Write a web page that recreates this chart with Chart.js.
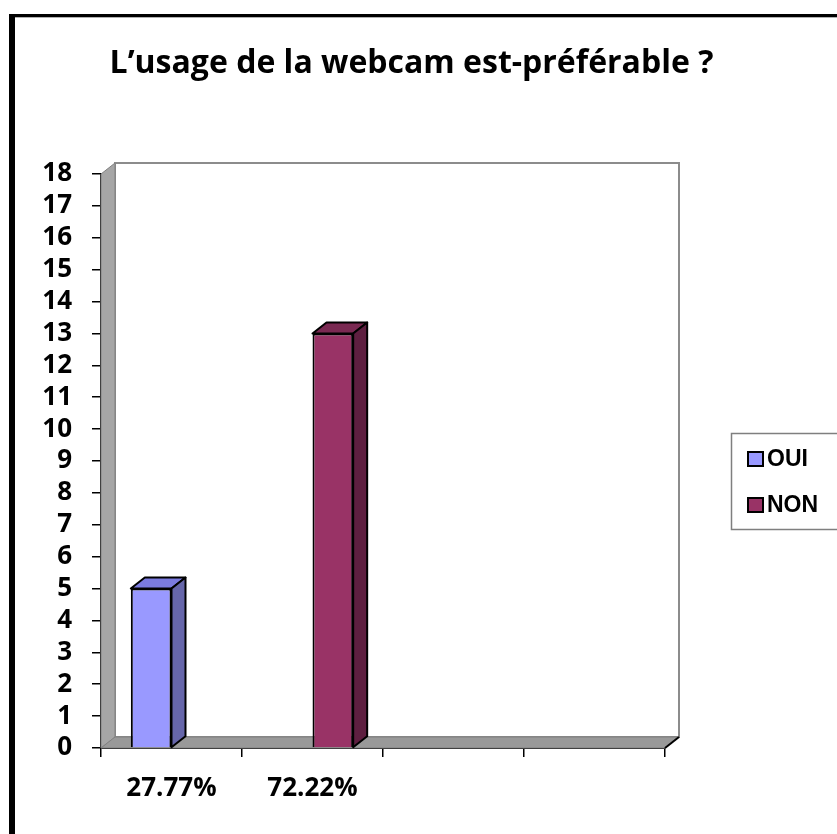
<!DOCTYPE html>
<html>
<head>
<meta charset="utf-8">
<script src="https://cdn.jsdelivr.net/npm/chart.js@4"></script>
<style>
  html, body { margin: 0; padding: 0; background: #fff; }
  canvas { display: block; }
</style>
</head>
<body>
<canvas id="myChart" width="837" height="834"></canvas>
<script>
// data
const chartTitle = 'L’usage de la webcam est-préférable ?';
const categories = ['27.77%', '72.22%', '', ''];
const seriesNames = ['OUI', 'NON'];
const ouiValues = [5, null, null, null];
const nonValues = [null, 13, null, null];
const yMax = 18;

const FONT = "'Open Sans', sans-serif";
const DX = 14, DY = 11; // 3d depth

// walls + floor behind the bars, 3d faces, legend
const wallsPlugin = {
  id: 'walls',
  beforeDraw(chart) {
    const ctx = chart.ctx;
    ctx.save();
    ctx.fillStyle = '#000';
    ctx.fillRect(9, 14, 6, 830);
    ctx.fillRect(9, 14, 840, 3);
    ctx.fillStyle = '#b0b0b0';
    ctx.fillRect(15, 17, 830, 1);
    ctx.restore();
  },
  beforeDatasetsDraw(chart) {
    const ctx = chart.ctx;
    const { left, right, top, bottom } = chart.chartArea;
    ctx.save();
    // back wall
    ctx.fillStyle = '#fff';
    ctx.fillRect(left + DX, top - DY, right - left, bottom - top);
    ctx.strokeStyle = '#8c8c8c';
    ctx.lineWidth = 2;
    ctx.strokeRect(left + DX, top - DY, right - left, bottom - top);
    // side wall
    ctx.beginPath();
    ctx.moveTo(left, bottom);
    ctx.lineTo(left, top);
    ctx.lineTo(left + DX, top - DY);
    ctx.lineTo(left + DX, bottom - DY);
    ctx.closePath();
    ctx.fillStyle = '#a6a6a6';
    ctx.fill();
    ctx.strokeStyle = '#808080';
    ctx.lineWidth = 1;
    ctx.stroke();
    // floor
    ctx.beginPath();
    ctx.moveTo(left, bottom);
    ctx.lineTo(right, bottom);
    ctx.lineTo(right + DX, bottom - DY);
    ctx.lineTo(left + DX, bottom - DY);
    ctx.closePath();
    ctx.fillStyle = '#999999';
    ctx.fill();
    ctx.stroke();
    ctx.beginPath();
    ctx.moveTo(right, bottom);
    ctx.lineTo(right + DX, bottom - DY);
    ctx.strokeStyle = '#000';
    ctx.lineWidth = 2;
    ctx.stroke();
    ctx.restore();
  },
  afterDatasetsDraw(chart) {
    const ctx = chart.ctx;
    ctx.save();
    ctx.strokeStyle = '#000';
    ctx.lineWidth = 2;
    ctx.lineJoin = 'round';
    chart.data.datasets.forEach((ds, i) => {
      const meta = chart.getDatasetMeta(i);
      meta.data.forEach((bar, j) => {
        if (ds.data[j] == null) return;
        const { x, y, base, width } = bar.getProps(['x', 'y', 'base', 'width'], true);
        const l = x - width / 2, r = x + width / 2;
        // top face
        ctx.beginPath();
        ctx.moveTo(l, y);
        ctx.lineTo(l + DX, y - DY);
        ctx.lineTo(r + DX, y - DY);
        ctx.lineTo(r, y);
        ctx.closePath();
        ctx.fillStyle = ds.topColor;
        ctx.fill();
        ctx.stroke();
        // side face
        ctx.beginPath();
        ctx.moveTo(r, y);
        ctx.lineTo(r + DX, y - DY);
        ctx.lineTo(r + DX, base - DY);
        ctx.lineTo(r, base);
        ctx.closePath();
        ctx.fillStyle = ds.sideColor;
        ctx.fill();
        ctx.stroke();
      });
    });
    ctx.restore();
  },
  afterDraw(chart) {
    const ctx = chart.ctx;
    ctx.save();
    ctx.strokeStyle = '#7f7f7f';
    ctx.lineWidth = 1.5;
    ctx.strokeRect(731.5, 433.5, 120, 96);
    ctx.font = "bold 23px 'Liberation Sans', Arial, sans-serif";
    ctx.textBaseline = 'middle';
    chart.data.datasets.forEach((ds, i) => {
      const cy = 459 + i * 46;
      ctx.fillStyle = ds.backgroundColor;
      ctx.fillRect(748, cy - 7, 15, 14);
      ctx.strokeStyle = '#000';
      ctx.lineWidth = 2;
      ctx.strokeRect(748, cy - 7, 15, 14);
      ctx.fillStyle = '#000';
      ctx.fillText(ds.label, 767, cy + 1);
    });
    ctx.restore();
  }
};

new Chart(document.getElementById('myChart').getContext('2d'), {
  type: 'bar',
  data: {
    labels: categories,
    datasets: [
      {
        label: seriesNames[0],
        data: ouiValues,
        backgroundColor: '#9999ff',
        topColor: '#7b7be0',
        sideColor: '#6666aa',
        borderColor: '#000',
        borderWidth: 2,
        categoryPercentage: 0.577,
        barPercentage: 1
      },
      {
        label: seriesNames[1],
        data: nonValues,
        backgroundColor: '#993366',
        topColor: '#7a2952',
        sideColor: '#5e1f40',
        borderColor: '#000',
        borderWidth: 2,
        categoryPercentage: 0.577,
        barPercentage: 1
      }
    ]
  },
  options: {
    responsive: false,
    animation: false,
    layout: { padding: { left: 0, right: 14, top: 0, bottom: 0 } },
    plugins: {
      legend: { display: false },
      tooltip: { enabled: false },
      title: {
        display: true,
        text: chartTitle,
        color: '#000',
        font: { family: FONT, size: 32, weight: 'bold', lineHeight: 1.2 },
        padding: { top: 45, bottom: 90.6 }
      }
    },
    scales: {
      x: {
        z: 1,
        afterFit(scale) { scale.height = 86; },
        grid: { drawOnChartArea: false, drawTicks: true, tickLength: 9, color: '#000', lineWidth: 1.5 },
        border: { color: '#000', width: 2 },
        ticks: { color: '#000', padding: 16, font: { family: FONT, size: 26, weight: 'bold' } }
      },
      y: {
        z: 1,
        min: 0,
        max: yMax,
        afterFit(scale) { scale.width = 101; },
        grid: { drawOnChartArea: false, drawTicks: true, tickLength: 9, color: '#000', lineWidth: 1.5 },
        border: { color: '#000', width: 2 },
        ticks: {
          stepSize: 1,
          autoSkip: false,
          color: '#000',
          padding: 20,
          font: { family: FONT, size: 26, weight: 'bold', lineHeight: 1 }
        }
      },
      // empty right axis only reserves room for the legend
      yRight: {
        position: 'right',
        afterFit(scale) { scale.width = 158; },
        grid: { display: false },
        border: { display: false },
        ticks: { display: false }
      }
    }
  },
  plugins: [wallsPlugin]
});
</script>
</body>
</html>
